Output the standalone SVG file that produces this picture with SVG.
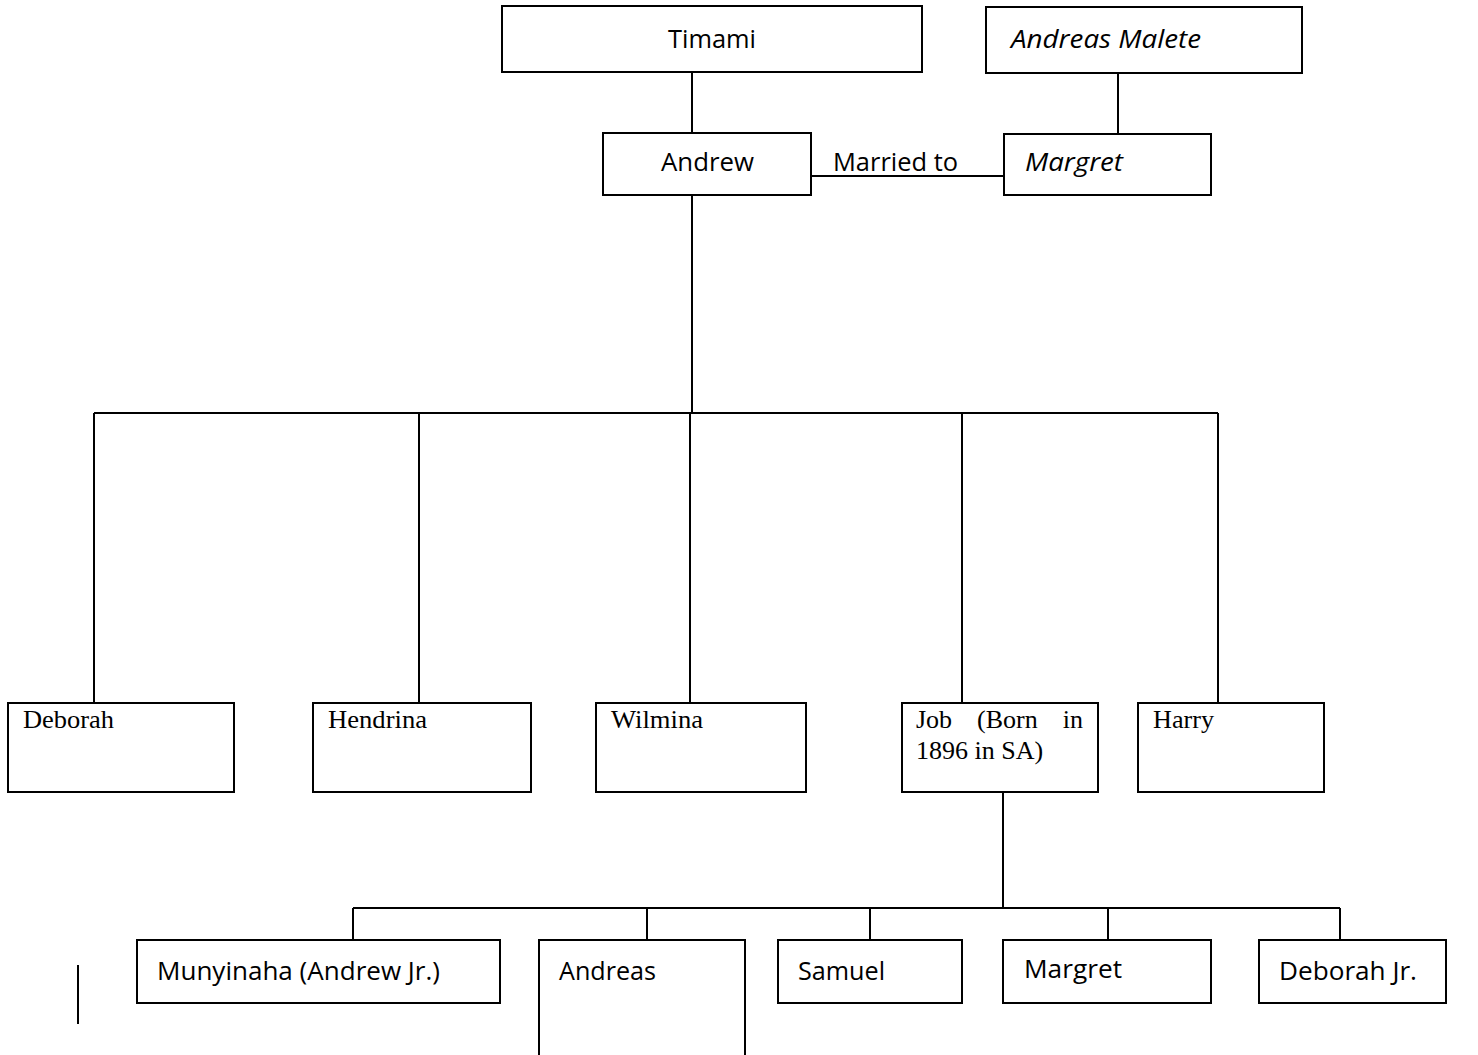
<svg xmlns="http://www.w3.org/2000/svg" width="1478" height="1055" viewBox="0 0 1478 1055">
<style>
.box{fill:#fff;stroke:#000;stroke-width:2}
.ln{stroke:#000;stroke-width:2;fill:none}
.s{font-family:"Open Sans","Liberation Sans",sans-serif;font-size:25px;fill:#000}
.i{font-style:italic;font-size:26px}
.t{font-family:"Liberation Serif","Times New Roman",serif;font-size:26px;fill:#000}
</style>
<rect width="1478" height="1055" fill="#fff"/>
<g id="connectors">
<path class="ln" d="M692 72V133"/>
<path class="ln" d="M1118 73V134"/>
<path class="ln" d="M811 176H1004"/>
<path class="ln" d="M692 195V413"/>
<path class="ln" d="M94 413H1218"/>
<path class="ln" d="M94 413V703M419 413V703M690 413V703M962 413V703M1218 413V703"/>
<path class="ln" d="M1003 792V908"/>
<path class="ln" d="M353 908H1340"/>
<path class="ln" d="M353 908V940M647 908V940M870 908V940M1108 908V940M1340 908V940"/>
<path class="ln" d="M78 965V1024"/>
</g>
<g id="timami"><rect class="box" x="502" y="6" width="420" height="66"/><text class="s" x="668" y="48" textLength="88" lengthAdjust="spacingAndGlyphs">Timami</text></g>
<g id="andreas-malete"><rect class="box" x="986" y="7" width="316" height="66"/><text class="s i" x="1011" y="48" textLength="190" lengthAdjust="spacingAndGlyphs">Andreas Malete</text></g>
<g id="andrew"><rect class="box" x="603" y="133" width="208" height="62"/><text class="s" x="661" y="171" textLength="93" lengthAdjust="spacingAndGlyphs">Andrew</text></g>
<text id="married-label" class="s" x="833" y="171" textLength="125" lengthAdjust="spacingAndGlyphs">Married to</text>
<g id="margret-top"><rect class="box" x="1004" y="134" width="207" height="61"/><text class="s i" x="1025" y="171" textLength="98" lengthAdjust="spacingAndGlyphs">Margret</text></g>
<g id="deborah"><rect class="box" x="8" y="703" width="226" height="89"/><text class="t" x="23" y="728" textLength="91" lengthAdjust="spacingAndGlyphs">Deborah</text></g>
<g id="hendrina"><rect class="box" x="313" y="703" width="218" height="89"/><text class="t" x="328" y="728" textLength="99" lengthAdjust="spacingAndGlyphs">Hendrina</text></g>
<g id="wilmina"><rect class="box" x="596" y="703" width="210" height="89"/><text class="t" x="611" y="728" textLength="92" lengthAdjust="spacingAndGlyphs">Wilmina</text></g>
<g id="job"><rect class="box" x="902" y="703" width="196" height="89"/><text class="t" x="916" y="728">Job</text><text class="t" x="977" y="728">(Born</text><text class="t" x="1083" y="728" text-anchor="end">in</text><text class="t" x="916" y="759">1896 in SA)</text></g>
<g id="harry"><rect class="box" x="1138" y="703" width="186" height="89"/><text class="t" x="1153" y="728" textLength="61" lengthAdjust="spacingAndGlyphs">Harry</text></g>
<g id="munyinaha"><rect class="box" x="137" y="940" width="363" height="63"/><text class="s" x="157" y="980" textLength="283" lengthAdjust="spacingAndGlyphs">Munyinaha (Andrew Jr.)</text></g>
<g id="andreas"><rect class="box" x="539" y="940" width="206" height="120"/><text class="s" x="559" y="980" textLength="97" lengthAdjust="spacingAndGlyphs">Andreas</text></g>
<g id="samuel"><rect class="box" x="778" y="940" width="184" height="63"/><text class="s" x="798" y="980" textLength="87" lengthAdjust="spacingAndGlyphs">Samuel</text></g>
<g id="margret"><rect class="box" x="1003" y="940" width="208" height="63"/><text class="s" x="1024" y="978" textLength="98" lengthAdjust="spacingAndGlyphs">Margret</text></g>
<g id="deborah-jr"><rect class="box" x="1259" y="940" width="187" height="63"/><text class="s" x="1279" y="980" textLength="138" lengthAdjust="spacingAndGlyphs">Deborah Jr.</text></g>
</svg>
